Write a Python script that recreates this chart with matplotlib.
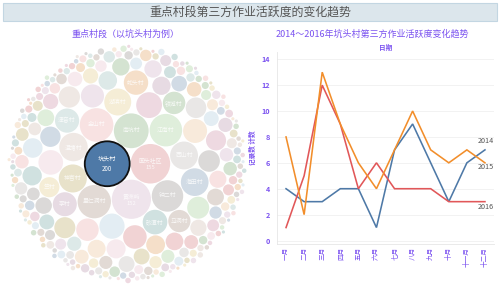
import math
import matplotlib
matplotlib.use("Agg")
import matplotlib.pyplot as plt
from matplotlib.patches import Circle, Rectangle
from matplotlib.colors import to_rgb

plt.rcParams['font.family'] = ['Noto Sans CJK SC', 'DejaVu Sans']

# ---------------- data ----------------
months = ['一月', '二月', '三月', '四月', '五月', '六月', '七月', '八月', '九月', '十月', '十一月', '十二月']
years = ['2014', '2015', '2016']
counts_2014 = [4, 3, 3, 4, 4, 1, 7, 9, 6, 3, 6, 7]
counts_2015 = [8, 2, 13, 9, 6, 4, 7, 10, 7, 6, 7, 6]
counts_2016 = [1, 5, 12, 9, 4, 6, 4, 4, 4, 3, 3, 3]

named_villages = ['坑头村', '国头社区', '黄洲屿', '南坑村', '金山村', '里仁洞村', '江南村', '钟二村',
                  '温塘村', '神宫村', '西山村', '海田村', '湖滨村', '砂潭村', '蛇头村', '津音村',
                  '李村', '铁城村', '马洞村', '竺村']
named_values = [200, 155, 152, 120, 112, 110, 105, 98, 80, 78, 77, 76, 72, 60, 59, 58, 57, 50, 49, 40]

mid_values = [66, 63, 60, 57, 55, 53, 50, 48, 46, 45, 44, 42, 41, 40, 38, 37, 36, 35, 34, 33,
              32, 31, 30, 30, 29, 28, 28, 27]
small_values = [26, 25, 25, 24, 23, 23, 22, 22, 21, 21, 20, 20, 19, 19, 18, 18, 18,
                17, 17, 16, 16, 16, 15, 15, 15, 14, 14, 14, 13, 13, 13, 12, 12, 12,
                12, 11, 11, 11, 10, 10, 10, 10, 9, 9, 9, 9, 8, 8, 8, 8]
tiny_values = [7, 7, 7, 7, 7, 7, 7, 7, 7, 7, 6, 6, 6, 6, 6, 6, 6, 6, 6, 6, 6, 6,
               5, 5, 5, 5, 5, 5, 5, 5, 5, 5, 5, 5, 5, 5, 5, 5,
               4, 4, 4, 4, 4, 4, 4, 4, 4, 4, 4, 4, 4, 4, 4, 4, 4, 4, 4, 4, 4, 4,
               3, 3, 3, 3, 3, 3, 3, 3, 3, 3, 3, 3, 3, 3, 3, 3, 3, 3, 3, 3, 3, 3, 3, 3, 3, 3,
               2, 2, 2, 2, 2, 2, 2, 2, 2, 2, 2, 2, 2, 2, 2, 2, 2, 2, 2, 2, 2, 2, 2, 2, 2, 2, 2, 2, 2, 2,
               1, 1, 1, 1, 1, 1, 1, 1, 1, 1, 1, 1, 1, 1, 1, 1, 1, 1, 1, 1, 1, 1, 1, 1, 1, 1, 1, 1, 1, 1,
               1, 1, 1, 1, 1, 1, 1, 1, 1, 1]

palette = ['#4E79A7', '#A0CBE8', '#F28E2B', '#FFBE7D', '#59A14F', '#8CD17D', '#B6992D', '#F1CE63',
           '#499894', '#86BCB6', '#E15759', '#FF9D9A', '#79706E', '#BAB0AC', '#D37295', '#FABFD2',
           '#B07AA1', '#D4A6C8', '#9D7660', '#D7B5A6']
purple = '#7B52F0'

# ---------------- circle packing (front-chain) ----------------
def place(b, a, c):
    dx = b[0] - a[0]; dy = b[1] - a[1]; d2 = dx * dx + dy * dy
    if d2:
        a2 = (a[2] + c[2]) ** 2; b2 = (b[2] + c[2]) ** 2
        if a2 > b2:
            x = (d2 + b2 - a2) / (2 * d2)
            y = math.sqrt(max(0.0, b2 / d2 - x * x))
            c[0] = b[0] - x * dx - y * dy
            c[1] = b[1] - x * dy + y * dx
        else:
            x = (d2 + a2 - b2) / (2 * d2)
            y = math.sqrt(max(0.0, a2 / d2 - x * x))
            c[0] = a[0] + x * dx - y * dy
            c[1] = a[1] + x * dy + y * dx
    else:
        c[0] = a[0] + c[2]; c[1] = a[1]


def intersects(a, b):
    dr = a[2] + b[2] - 1e-6
    dx = b[0] - a[0]; dy = b[1] - a[1]
    return dr > 0 and dr * dr > dx * dx + dy * dy


def pack(radii):
    n = len(radii)
    C = [[0.0, 0.0, r] for r in radii]
    C[0][0] = -C[1][2]; C[1][0] = C[0][2]
    place(C[1], C[0], C[2])
    nxt = {0: 1, 1: 2, 2: 0}
    prv = {2: 1, 0: 2, 1: 0}

    def score(node):
        a = C[node]; b = C[nxt[node]]
        ab = a[2] + b[2]
        dx = (a[0] * b[2] + b[0] * a[2]) / ab
        dy = (a[1] * b[2] + b[1] * a[2]) / ab
        return dx * dx + dy * dy

    a, b = 0, 1
    i = 3
    while i < n:
        c = i
        place(C[a], C[b], C[c])
        j = nxt[b]; k = prv[a]; sj = C[b][2]; sk = C[a][2]
        restart = False
        while True:
            if sj <= sk:
                if intersects(C[j], C[c]):
                    b = j; nxt[a] = b; prv[b] = a; restart = True; break
                sj += C[j][2]; j = nxt[j]
            else:
                if intersects(C[k], C[c]):
                    a = k; nxt[a] = b; prv[b] = a; restart = True; break
                sk += C[k][2]; k = prv[k]
            if j == nxt[k]:
                break
        if restart:
            continue
        prv[c] = a; nxt[c] = b; nxt[a] = c; prv[b] = c; b = c
        aa = score(a); cc = nxt[c]
        while cc != b:
            ca = score(cc)
            if ca < aa:
                a = cc; aa = ca
            cc = nxt[cc]
        b = nxt[a]
        i += 1
    return C

all_values = named_values + mid_values + small_values + tiny_values
all_labels = named_villages + [''] * (len(all_values) - len(named_villages))
order = sorted(range(len(all_values)), key=lambda t: -all_values[t])
pad = 0.3
radii = [math.sqrt(all_values[t]) + pad for t in order]
packed = pack(radii)

xs = [p[0] for p in packed]; ys = [-p[1] for p in packed]
rs = [p[2] for p in packed]
minx = min(x - r for x, r in zip(xs, rs)); maxx = max(x + r for x, r in zip(xs, rs))
miny = min(y - r for y, r in zip(ys, rs)); maxy = max(y + r for y, r in zip(ys, rs))
cx = (minx + maxx) / 2; cy = (miny + maxy) / 2
R = max(math.hypot(x - cx, y - cy) + r for x, y, r in zip(xs, ys, rs))

# ---------------- figure ----------------
W, H = 500, 289
fig = plt.figure(figsize=(W / 100, H / 100), dpi=100)
fig.patch.set_facecolor('white')

# title bar
fig.patches.append(Rectangle((3 / W, 1 - 21 / H), 494 / W, 18 / H, transform=fig.transFigure,
                             facecolor='#DCE6EC', edgecolor='#C3D6E2', lw=0.8))
fig.text(250 / W, 1 - 12.5 / H, '重点村段第三方作业活跃度的变化趋势', ha='center', va='center',
         fontsize=8.6, color='#555555')
fig.text(125 / W, 1 - 34 / H, '重点村段（以坑头村为例）', ha='center', va='center',
         fontsize=6.5, color=purple)
fig.text(372 / W, 1 - 34 / H, '2014～2016年坑头村第三方作业活跃度变化趋势', ha='center', va='center',
         fontsize=6.5, color=purple)

# ---------------- bubble chart ----------------
bcx, bcy, bR = 127, 164, 121
axb = fig.add_axes([(bcx - bR) / W, (H - bcy - bR) / H, 2 * bR / W, 2 * bR / H])
axb.set_xlim(cx - R, cx + R); axb.set_ylim(cy - R, cy + R)
axb.axis('off')

def fade(col, a=0.22, base=0.965):
    r, g, b = to_rgb(col)
    return tuple(base * (1 - a) + a * v for v in (r, g, b))

for n, t in enumerate(order):
    x, y, r = xs[n], ys[n], rs[n] - pad
    if n == 0:
        axb.add_patch(Circle((x, y), r, facecolor='#4E79A7', edgecolor='#111111', lw=1.3, zorder=3))
        axb.text(x, y, f'{all_labels[t]}\n{all_values[t]}', ha='center', va='center',
                 fontsize=4.4, color='white', zorder=4, linespacing=1.5)
    else:
        col = fade(palette[(n * 7 + 3) % 20])
        axb.add_patch(Circle((x, y), r, facecolor=col, edgecolor='none', zorder=2))
        if all_labels[t]:
            txt = all_labels[t] + (f'\n{all_values[t]}' if n < 3 else '')
            axb.text(x, y, txt, ha='center', va='center', fontsize=4.2, color='white',
                     alpha=0.8, zorder=4, linespacing=1.5)

# ---------------- line chart ----------------
axl = fig.add_axes([277 / W, (H - 244) / H, 217 / W, 192 / H])
xpos = list(range(len(months)))
series = [counts_2014, counts_2016, counts_2015]
cols = ['#4E79A7', '#E15759', '#F28E2B']
for s, c in zip(series, cols):
    axl.plot(xpos, s, color=c, lw=1.15, solid_joinstyle='miter', zorder=3)

axl.set_xlim(-0.5, 11.5)
axl.set_ylim(-0.27, 14.56)
axl.set_yticks([0, 2, 4, 6, 8, 10, 12, 14])
axl.set_xticks(xpos)
axl.set_xticklabels(months, rotation=90, fontsize=4.8, color=purple, va='top')
axl.tick_params(axis='y', length=0, labelsize=5.2, labelcolor=purple, pad=5)
axl.tick_params(axis='x', length=0, pad=2)
for lbl in axl.get_yticklabels():
    lbl.set_fontweight('bold')
axl.grid(axis='y', color='#F0F0F0', lw=0.6)
axl.set_axisbelow(True)
for sp in ['top', 'right']:
    axl.spines[sp].set_visible(False)
axl.spines['left'].set_color('#E6E6E6'); axl.spines['left'].set_linewidth(0.6)
axl.spines['bottom'].set_color('#E6E6E6'); axl.spines['bottom'].set_linewidth(0.6)
axl.set_ylabel('记录数 计数', fontsize=4.8, color=purple, fontweight='bold', labelpad=4)
axl.set_title('日期', fontsize=4.8, color=purple, fontweight='bold', pad=1.5)

end_offsets = {'2014': 0.65, '2015': -0.35, '2016': -0.45}
for s, nm in zip([counts_2014, counts_2015, counts_2016], years):
    axl.text(11.5, s[-1] + end_offsets[nm], nm, ha='right', va='center', fontsize=5.2,
             color='#555555', clip_on=False, zorder=4)

fig.savefig('out.png', dpi=100)
